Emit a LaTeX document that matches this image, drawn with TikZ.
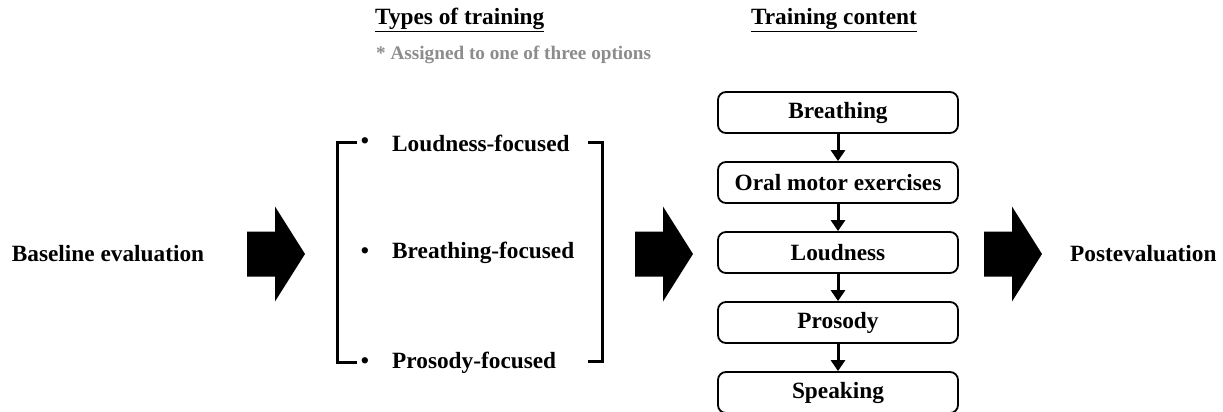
\documentclass[tikz,border=0pt]{standalone}
\usepackage{fontspec}
\setmainfont{Liberation Serif}
\usetikzlibrary{arrows.meta}
\definecolor{notegray}{HTML}{8C8C8C}
\tikzset{
  lbl/.style={font=\fontsize{23.3}{27}\selectfont\bfseries, inner sep=0pt},
  hdr/.style={font=\fontsize{23.3}{27}\selectfont\bfseries, inner sep=0pt},
  note/.style={font=\fontsize{19.2}{22}\selectfont\bfseries, text=notegray, inner sep=0pt},
  stepbox/.style={draw, line width=1.8pt, rounded corners=8pt, minimum width=240pt, minimum height=41pt, font=\fontsize{23.3}{27}\selectfont\bfseries, inner sep=0pt},
  flow/.style={line width=3pt, -{Triangle[width=14pt,length=11pt]}},
  brk/.style={line width=3pt},
  bigarrow/.style={fill=black, draw=none}
}
\newcommand{\bigarr}[2]{% #1 = left x, #2 = centre y
  \fill[bigarrow] (#1,#2-22.5) -- (#1+28,#2-22.5) -- (#1+28,#2-47.5) -- (#1+58,#2) -- (#1+28,#2+47.5) -- (#1+28,#2+22.5) -- (#1,#2+22.5) -- cycle;}
\begin{document}
\begin{tikzpicture}[x=1pt,y=-1pt]
\useasboundingbox (0,0) rectangle (1223,412);
% headers
\node[hdr, anchor=west] (h1) at (375,20) {\underline{Types of training}};
\node[note, anchor=west] (n1) at (376,55) {* Assigned to one of three options};
\node[hdr] (h2) at (834,20) {\underline{Training content}};
% left / right labels
\node[lbl] (base) at (108,254) {Baseline evaluation};
\node[lbl, anchor=west] (post) at (1070,254) {Postevaluation};
% big arrows
\bigarr{247}{254}
\bigarr{635}{254}
\bigarr{984}{254}
% brackets
\draw[brk] (357,142) -- (337,142) -- (337,362) -- (357,362);
\draw[brk] (588,142) -- (602,142) -- (602,361) -- (588,361);
% training types
\foreach \y/\t/\n in {143/Loudness-focused/t1, 253/Breathing-focused/t2, 363/Prosody-focused/t3}{
  \node[lbl] (\n b) at (365,\y) {•};
  \node[lbl, anchor=west] (\n) at (392,\y) {\t};
}
% training content
\node[stepbox] (c1) at (838,112.5) {Breathing};
\node[stepbox] (c2) at (838,182.5) {Oral motor exercises};
\node[stepbox] (c3) at (838,252.5) {Loudness};
\node[stepbox] (c4) at (838,322.5) {Prosody};
\node[stepbox] (c5) at (838,392.5) {Speaking};
\draw[flow] (c1) -- (c2);
\draw[flow] (c2) -- (c3);
\draw[flow] (c3) -- (c4);
\draw[flow] (c4) -- (c5);
\end{tikzpicture}
\end{document}
